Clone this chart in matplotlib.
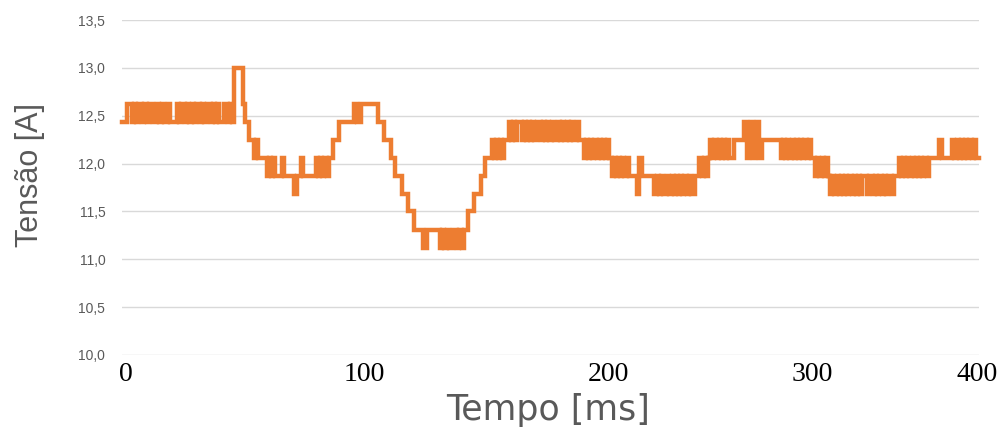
import matplotlib
matplotlib.use("Agg")
import matplotlib.pyplot as plt
from matplotlib import font_manager
import numpy as np

# ---- data ----
# quantised current levels (A)
LEVELS = [11.12, 11.31, 11.50, 11.68, 11.87, 12.06, 12.25, 12.43, 12.62, 12.81, 13.00]
LEVEL_CODES = "abcdefghijk"
# one code per millisecond sample, 0..400 ms
SIGNAL_CHUNKS = [
    "hhhiihihii", "hihiihhihi", "hhihhhihii", "hihihiihih", "iihihihhii",
    "hihkkkkihh", "ggfgffffef", "efeeefeeee", "edeefeeeee", "efefefeffg",
    "gghhhhhhhi", "hhiiiiiiii", "hhhgggffee", "edddcccbbb", "baabbbbbba",
    "babaabbaba", "bbcccdddee", "fffgfgfgfg", "ghghghhghg", "hghghhghgh",
    "ghgghghghg", "hgghggfgfg", "fgfgfgfgfe", "fefefefeee", "edfeeeeeed",
    "ededdedede", "dedededdee", "fefefgfgfg", "fgfgffgggg", "ghfghfghfg",
    "ggggggggfg", "fgfgfgfgfg", "fgffefefef", "ededededed", "edededeede",
    "ededededee", "deefefefef", "efefefefff", "ffgfffffgf", "gfgfgfgfgf",
    "f",
]
SAMPLE_MS = 1.0

Y_TICKS = [10.0, 10.5, 11.0, 11.5, 12.0, 12.5, 13.0, 13.5]
Y_TICK_LABELS = ["10,0", "10,5", "11,0", "11,5", "12,0", "12,5", "13,0", "13,5"]
X_TICK_LABELS = ["0", "100", "200", "300", "400"]
X_TICK_POS = [2, 113, 227, 322, 399]   # where the labels sit in the picture

X_LABEL = "Tempo [ms]"
Y_LABEL = "Tensão [A]"

# ---- build series ----
codes = "".join(SIGNAL_CHUNKS)
values = np.array([LEVELS[LEVEL_CODES.index(c)] for c in codes])
time_ms = np.arange(len(values)) * SAMPLE_MS


def has_font(name):
    try:
        font_manager.findfont(font_manager.FontProperties(family=name),
                              fallback_to_default=False)
        return True
    except Exception:
        return False


ylab_font = "Liberation Sans Narrow" if has_font("Liberation Sans Narrow") else "Liberation Sans"
ylab_size = 26 if ylab_font == "Liberation Sans Narrow" else 22

fig = plt.figure(figsize=(10.05, 4.28), dpi=100)
fig.patch.set_facecolor("white")
ax = fig.add_axes([122 / 1005, 73 / 428, 857 / 1005, 335 / 428])

ax.plot(time_ms, values, color="#ED7D31", lw=3.2, drawstyle="steps-mid",
        solid_joinstyle="miter", clip_on=False, zorder=3)

ax.set_xlim(0, 400)
ax.set_ylim(10.0, 13.5)

ax.set_yticks(Y_TICKS)
ax.set_yticklabels(Y_TICK_LABELS, fontfamily="Liberation Sans", fontsize=10,
                   color="#595959")
ax.set_xticks(X_TICK_POS)
ax.set_xticklabels(X_TICK_LABELS, fontfamily="Liberation Serif", fontsize=20,
                   color="black")
ax.tick_params(axis="y", length=0, pad=12)
ax.tick_params(axis="x", length=0, pad=5)

ax.yaxis.grid(True, color="#D9D9D9", lw=1.0)
ax.xaxis.grid(False)
ax.set_axisbelow(True)
for s in ax.spines.values():
    s.set_visible(False)

ax.set_xlabel(X_LABEL, fontfamily="DejaVu Sans", fontsize=25, color="#595959",
              va="center", ha="center")
ax.xaxis.set_label_coords(0.497, -0.164)
ax.set_ylabel(Y_LABEL, fontfamily=ylab_font, fontsize=ylab_size, color="#595959",
              va="center", ha="center")
ax.yaxis.set_label_coords(-0.107, 0.537)

fig.savefig("out.png", dpi=100, facecolor="white")
